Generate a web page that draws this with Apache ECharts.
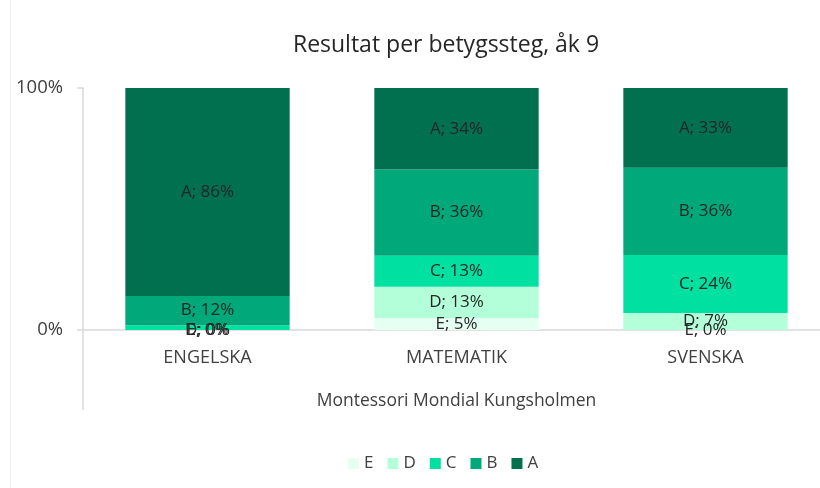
<!DOCTYPE html>
<html>
<head>
<meta charset="utf-8">
<script src="https://cdn.jsdelivr.net/npm/echarts@6/dist/echarts.min.js"></script>
<style>
html,body{margin:0;padding:0;background:#fff;overflow:hidden;width:820px;height:488px;}
#chart{width:832px;height:488px;}
</style>
</head>
<body>
<div id="chart"></div>
<script>
// Data (raw percentages as labelled; chart is a 100% stacked column)
const categories = ['ENGELSKA', 'MATEMATIK', 'SVENSKA'];
const grades = ['E', 'D', 'C', 'B', 'A'];
const valuesE = [0, 5, 0];
const valuesD = [0, 13, 7];
const valuesC = [2, 13, 24];
const valuesB = [12, 36, 36];
const valuesA = [86, 34, 33];
const yTickLabels = ['0%', '100%'];
const hiddenLabels = [['C', 'ENGELSKA']];

const seriesValues = [valuesE, valuesD, valuesC, valuesB, valuesA];
const colors = ['#E5FFF2', '#B3FFD9', '#00E0A0', '#00A87A', '#00704F'];

const totals = categories.map((_, i) => seriesValues.reduce((s, arr) => s + arr[i], 0));

const FONT = '"Open Sans", Lato, sans-serif';

const series = grades.map((g, si) => ({
  name: g,
  type: 'bar',
  stack: 'total',
  barWidth: '66%',
  itemStyle: { color: colors[si] },
  label: {
    show: true,
    position: 'inside',
    color: '#262626',
    fontFamily: FONT,
    fontSize: 17,
    formatter: p => {
      const hide = hiddenLabels.some(h => h[0] === g && h[1] === p.name);
      if (hide) return '';
      return g + '; ' + seriesValues[si][p.dataIndex] + '%';
    }
  },
  labelLayout: { hideOverlap: false },
  data: categories.map((c, i) => totals[i] ? seriesValues[si][i] / totals[i] * 100 : 0)
}));

const chart = echarts.init(document.getElementById('chart'), null, { renderer: 'canvas' });
chart.setOption({
  animation: false,
  backgroundColor: '#fff',
  title: {
    text: 'Resultat per betygssteg, åk 9',
    left: 441,
    textAlign: 'center',
    top: 29,
    textStyle: { fontFamily: FONT, fontSize: 23, fontWeight: 'normal', color: '#262626' }
  },
  legend: {
    data: grades,
    bottom: 11,
    left: 343,
    itemWidth: 11,
    itemHeight: 11,
    itemGap: 14,
    icon: 'rect',
    textStyle: { fontFamily: FONT, fontSize: 17, color: '#404040' }
  },
  grid: { left: 83, top: 88, width: 747, height: 242 },
  xAxis: {
    type: 'category',
    data: categories,
    name: 'Montessori Mondial Kungsholmen',
    nameLocation: 'middle',
    nameGap: 62,
    nameTextStyle: { fontFamily: FONT, fontSize: 17.5, color: '#404040' },
    axisLine: { lineStyle: { color: '#d9d9d9', width: 1.5 } },
    axisTick: { show: false },
    axisLabel: { fontFamily: FONT, fontSize: 18, color: '#404040', margin: 19 }
  },
  yAxis: {
    type: 'value',
    min: 0,
    max: 100,
    interval: 100,
    axisLine: { show: true, lineStyle: { color: '#d9d9d9', width: 1.5 } },
    axisTick: { show: true, length: 6, lineStyle: { color: '#d9d9d9', width: 1.5 } },
    splitLine: { show: false },
    axisLabel: {
      fontFamily: FONT, fontSize: 18.5, color: '#404040', margin: 20,
      formatter: v => yTickLabels[v === 0 ? 0 : 1]
    }
  },
  graphic: [
    { type: 'line', shape: { x1: 83, y1: 330, x2: 83, y2: 410 }, style: { stroke: '#d9d9d9', lineWidth: 1.5 }, silent: true },
    { type: 'line', shape: { x1: 10.5, y1: 0, x2: 10.5, y2: 488 }, style: { stroke: '#eeeeee', lineWidth: 1 }, silent: true }
  ],
  series: series
});
</script>
</body>
</html>
